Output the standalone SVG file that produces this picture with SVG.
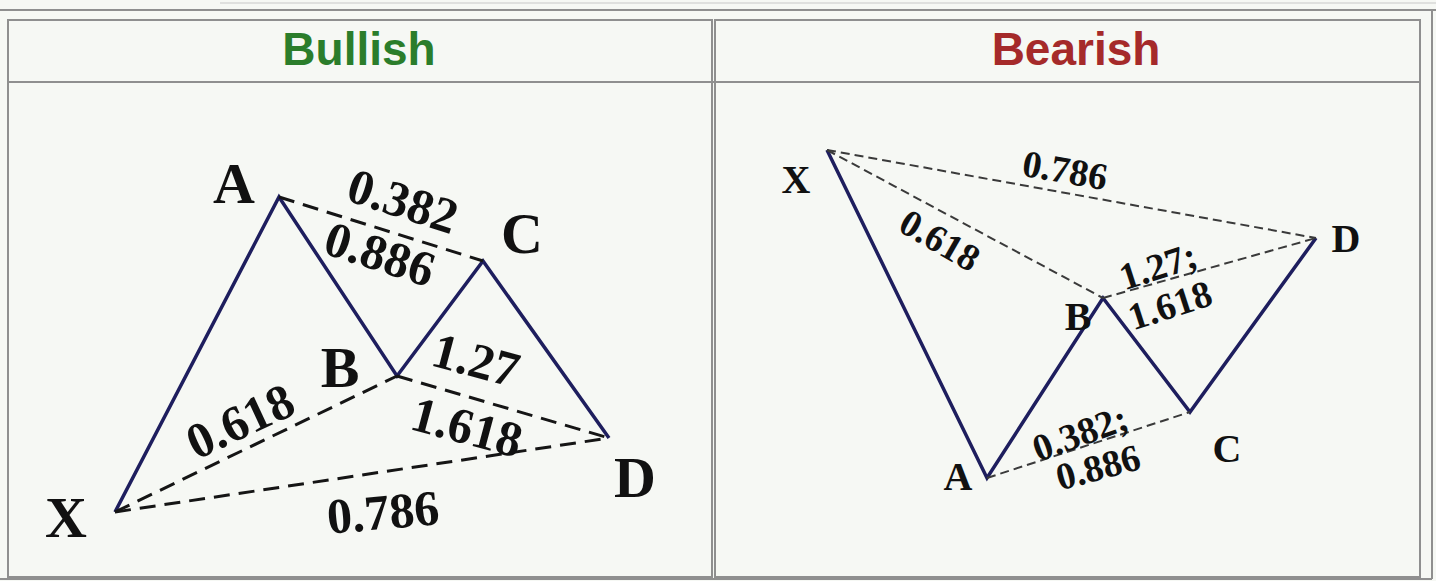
<svg xmlns="http://www.w3.org/2000/svg" width="1436" height="581" viewBox="0 0 1436 581">
<style>
.frame{fill:none;stroke:#8f8f8f;stroke-width:2}
.thin{fill:none;stroke:#c8c8c8;stroke-width:1}
.leg{fill:none;stroke:#1e1e5e;stroke-width:3.5;stroke-linejoin:miter}
.dashL{fill:none;stroke:#151515;stroke-width:3;stroke-dasharray:16 9}
.dashR{fill:none;stroke:#3a3a3a;stroke-width:2;stroke-dasharray:9 5}
.hdr{font-family:"Liberation Sans",Arial,sans-serif;font-weight:bold;font-size:46px;text-anchor:middle}
.ptL{font-family:"Liberation Serif","Times New Roman",serif;font-weight:bold;font-size:58px;text-anchor:middle;fill:#111}
.numL{font-family:"Liberation Serif","Times New Roman",serif;font-weight:bold;font-size:50px;text-anchor:middle;fill:#111}
.ptR{font-family:"Liberation Serif","Times New Roman",serif;font-weight:bold;font-size:40px;text-anchor:middle;fill:#111}
.numR{font-family:"Liberation Serif","Times New Roman",serif;font-weight:bold;font-size:38px;text-anchor:middle;fill:#111}
</style>
<rect x="0" y="0" width="1436" height="581" fill="#f6f8f4"/>
<g id="table">
<line class="thin" x1="220" y1="3" x2="1436" y2="3"/>
<line class="frame" x1="0" y1="10" x2="1436" y2="10"/>
<rect x="8" y="20" width="704" height="557" fill="#fbfdf9" class="frame"/>
<rect x="715" y="20" width="705" height="557" fill="#fbfdf9" class="frame"/>
<line class="frame" x1="8" y1="82" x2="1420" y2="82"/>
<line class="frame" x1="1432" y1="10" x2="1432" y2="579"/>
<line class="frame" x1="0" y1="579" x2="1432" y2="579"/>
</g>
<g id="header-bullish"><text class="hdr" x="359" y="65" fill="#2b7d2b">Bullish</text></g>
<g id="header-bearish"><text class="hdr" x="1076" y="65" fill="#a52a2a">Bearish</text></g>

<g id="connectors">
<polyline class="leg" points="115,512 279,197 397,376 483,261 609,438"/>
<line class="dashL" x1="279" y1="197" x2="483" y2="261"/>
<line class="dashL" x1="115" y1="512" x2="397" y2="376"/>
<line class="dashL" x1="397" y1="376" x2="609" y2="438"/>
<line class="dashL" x1="115" y1="512" x2="609" y2="438"/>
<polyline class="leg" points="827,150 987,478 1103,298 1190,412 1316,238"/>
<line class="dashR" x1="827" y1="150" x2="1316" y2="238"/>
<line class="dashR" x1="827" y1="150" x2="1103" y2="298"/>
<line class="dashR" x1="1103" y1="298" x2="1316" y2="238"/>
<line class="dashR" x1="987" y1="478" x2="1190" y2="412"/>
</g>

<g id="bull-X"><text class="ptL" x="66" y="537">X</text></g>
<g id="bull-A"><text class="ptL" x="234" y="203">A</text></g>
<g id="bull-B"><text class="ptL" x="340" y="387">B</text></g>
<g id="bull-C"><text class="ptL" x="522" y="253">C</text></g>
<g id="bull-D"><text class="ptL" x="635" y="497">D</text></g>
<g id="bull-labels">
<text class="numL" transform="translate(403,201) rotate(18)" y="17">0.382</text>
<text class="numL" transform="translate(380,254) rotate(18)" y="17">0.886</text>
<text class="numL" transform="translate(476,360) rotate(15)" y="17">1.27</text>
<text class="numL" transform="translate(467,427) rotate(15)" y="17">1.618</text>
<text class="numL" transform="translate(240,421) rotate(-25)" y="17">0.618</text>
<text class="numL" transform="translate(383,512) rotate(-5)" y="17">0.786</text>
</g>

<g id="bear-X"><text class="ptR" x="796" y="193">X</text></g>
<g id="bear-A"><text class="ptR" x="958" y="490">A</text></g>
<g id="bear-B"><text class="ptR" x="1078" y="330">B</text></g>
<g id="bear-C"><text class="ptR" x="1227" y="462">C</text></g>
<g id="bear-D"><text class="ptR" x="1346" y="252">D</text></g>
<g id="bear-labels">
<text class="numR" transform="translate(1065,170) rotate(10)" y="13">0.786</text>
<text class="numR" transform="translate(940,240) rotate(30)" y="13">0.618</text>
<text class="numR" transform="translate(1158,266) rotate(-18)" y="13">1.27;</text>
<text class="numR" transform="translate(1170,305) rotate(-18)" y="13">1.618</text>
<text class="numR" transform="translate(1080,433) rotate(-20)" y="13">0.382;</text>
<text class="numR" transform="translate(1098,467) rotate(-15)" y="13">0.886</text>
</g>
</svg>
